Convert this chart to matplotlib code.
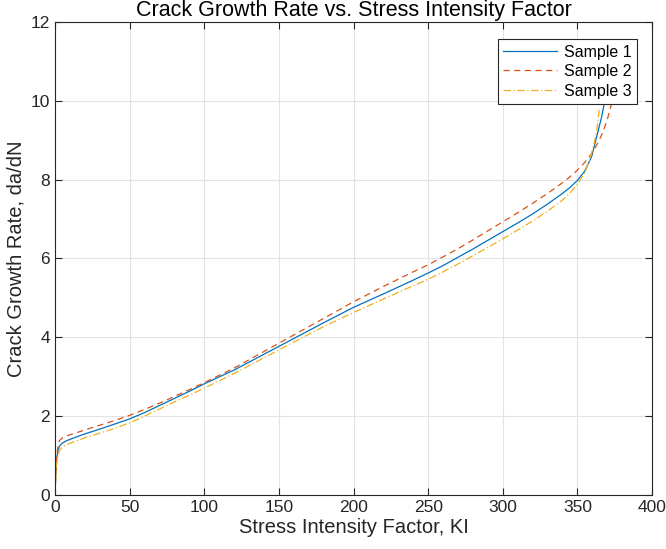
import numpy as np
import matplotlib.pyplot as plt

# data (KI vs da/dN)
ki_1 = [0, 0.5, 1, 2, 3, 5, 8, 12, 20, 30, 40, 50, 60, 70, 80, 90, 100, 120, 140, 160,
        180, 200, 220, 240, 250, 260, 270, 280, 290, 300, 310, 320, 330, 340, 345, 350, 355,
        359.6, 363, 366.3, 368.1, 370, 372]
rate_1 = [0, 0.55, 0.9, 1.13, 1.24, 1.32, 1.38, 1.44, 1.55, 1.67, 1.8, 1.93, 2.09, 2.27, 2.45, 2.63, 2.82, 3.17, 3.57, 3.97,
          4.37, 4.76, 5.1, 5.45, 5.63, 5.82, 6.03, 6.24, 6.46, 6.68, 6.9, 7.13, 7.38, 7.65, 7.8, 7.98, 8.22,
          8.59, 9.1, 9.6, 9.95, 10.4, 11.0]

ki_2 = [0, 0.5, 1, 2, 3, 5, 8, 12, 20, 30, 40, 50, 60, 70, 80, 90, 100, 120, 140, 160,
        180, 200, 220, 240, 250, 260, 270, 280, 290, 300, 310, 320, 330, 340, 345, 350, 355,
        360, 364, 367, 370, 373, 376, 378]
rate_2 = [0, 0.5, 0.95, 1.25, 1.38, 1.45, 1.5, 1.55, 1.65, 1.77, 1.89, 2.02, 2.17, 2.33, 2.5, 2.67, 2.85, 3.22, 3.64, 4.06,
          4.48, 4.9, 5.29, 5.66, 5.84, 6.04, 6.25, 6.47, 6.7, 6.93, 7.16, 7.4, 7.65, 7.92, 8.07, 8.24, 8.44,
          8.68, 8.95, 9.2, 9.52, 9.95, 10.5, 11.0]

ki_3 = [0, 0.5, 1, 2, 3, 5, 8, 12, 20, 30, 40, 50, 60, 70, 80, 90, 100, 120, 140, 160,
        180, 200, 220, 240, 250, 260, 270, 280, 290, 300, 310, 320, 330, 340, 345, 350, 355,
        358, 361, 363, 364.7]
rate_3 = [0, 0.4, 0.75, 1.0, 1.12, 1.22, 1.28, 1.34, 1.45, 1.57, 1.69, 1.83, 2.0, 2.18, 2.36, 2.53, 2.71, 3.08, 3.48, 3.88,
          4.27, 4.63, 4.97, 5.31, 5.47, 5.66, 5.86, 6.07, 6.28, 6.5, 6.72, 6.95, 7.2, 7.48, 7.66, 7.88, 8.18,
          8.47, 8.88, 9.25, 9.8]

labels = ['Sample 1', 'Sample 2', 'Sample 3']

plt.rcParams['font.family'] = ['Liberation Sans', 'DejaVu Sans']
axcol = '#262626'

fig = plt.figure(figsize=(6.66, 5.49), dpi=100)
ax = fig.add_axes([0.0826, 0.0984, 0.8964, 0.8616])

ax.plot(ki_1, rate_1, color='#0072BD', lw=0.9, label=labels[0])
ax.plot(ki_2, rate_2, color='#D95319', lw=0.9, ls=(0, (5, 3.5)), label=labels[1])
ax.plot(ki_3, rate_3, color='#EDB120', lw=0.9, ls=(0, (6, 2, 1, 2)), label=labels[2])

ax.set_xlim(0, 400)
ax.set_ylim(0, 12)
ax.set_xticks(np.arange(0, 401, 50))
ax.set_yticks(np.arange(0, 13, 2))
ax.grid(True, color='#e3e3e3', lw=0.8)
ax.set_axisbelow(True)
ax.tick_params(direction='in', top=True, right=True, colors=axcol, labelsize=12.5, length=5, width=0.8)
for s in ax.spines.values():
    s.set_color(axcol)
    s.set_linewidth(0.8)

ax.set_title('Crack Growth Rate vs. Stress Intensity Factor', fontsize=15.5, color='black', pad=4)
ax.set_xlabel('Stress Intensity Factor, KI', fontsize=14.5, color=axcol, labelpad=2)
ax.set_ylabel('Crack Growth Rate, da/dN', fontsize=14.5, color=axcol, labelpad=4)

leg = ax.legend(loc='upper right', bbox_to_anchor=(0.975, 0.964), borderaxespad=0, fontsize=11.5,
                fancybox=False, edgecolor=axcol, framealpha=1, handlelength=3.4, handletextpad=0.4,
                borderpad=0.35, labelspacing=0.28)
leg.get_frame().set_linewidth(0.8)

fig.savefig('out.png', dpi=100)
